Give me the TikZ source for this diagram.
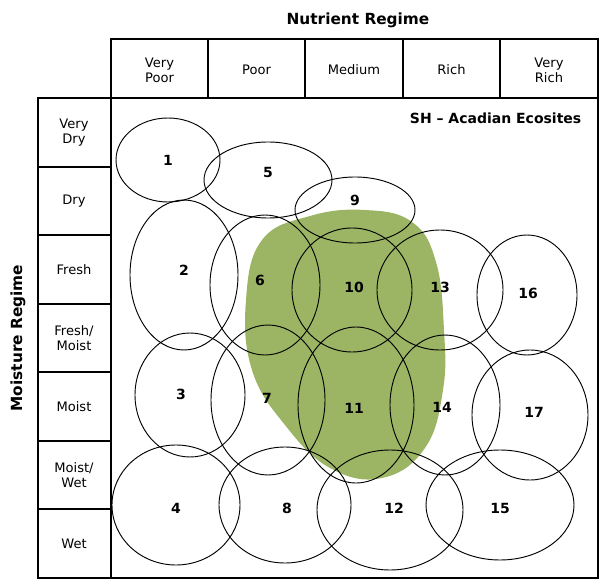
\documentclass[tikz,border=0pt]{standalone}
\usepackage{fontspec}
\setmainfont{DejaVu Sans}
\begin{document}
\begin{tikzpicture}[x=0.75pt,y=-0.75pt,
  cell/.style={draw,line width=0.8pt},
  eco/.style={draw,line width=0.7pt},
  hdr/.style={font=\fontsize{9.8}{11.5}\selectfont,align=center},
  num/.style={font=\bfseries\fontsize{10.5}{12}\selectfont}]
\useasboundingbox (0,0) rectangle (600,581);
\fill[fill={rgb,255:red,155;green,181;blue,100}] plot[smooth cycle,tension=0.7] coordinates {(310,216)(365,210)(412,222)(436,262)(444,330)(443,390)(425,448)(382,478)(330,468)(285,425)(252,370)(246,300)(262,240)};
% header
\foreach \a/\b/\t in {111/208/{Very\\Poor},208/305/{Poor},305/403/{Medium},403/500/{Rich},500/598/{Very\\Rich}}
  {\draw[cell] (\a,39) rectangle (\b,98); \node[hdr] (h\a) at ({(\a+\b)/2},70) {\t};}
\foreach \a/\b/\t in {98/167/{Very\\Dry},167/235/{Dry},235/304/{Fresh},304/372/{Fresh/\\Moist},372/441/{Moist},441/509/{Moist/\\Wet},509/578/{Wet}}
  {\draw[cell] (38,\a) rectangle (111,\b); \node[hdr] (r\a) at (74,{(\a+\b)/2}) {\t};}
\draw[cell] (111,98) rectangle (598,578);
\node[font=\bfseries\fontsize{11.5}{13}\selectfont] (nt) at (358,20) {Nutrient Regime};
\node[font=\bfseries\fontsize{11.5}{13}\selectfont,rotate=90] (mt) at (18,338) {Moisture Regime};
\node[font=\bfseries\fontsize{10.5}{12}\selectfont,anchor=east] (sh) at (586,118) {SH – Acadian Ecosites};
\foreach \n/\x/\y/\rx/\ry/\lx/\ly in {
 1/168/160/52/42/168/160, 5/268/180/64/38/268/172, 9/355/210/60/33/355/200,
 2/184/275/54/75/184/270, 6/265/285/55/70/260/280, 10/352/290/60/62/354/287,
 13/440/290/63/60/440/287, 16/527/295/50/60/528/293,
 3/190/395/55/62/181/394, 7/268/400/57/75/267/398, 11/356/405/58/78/354/408,
 14/445/405/55/70/442/407, 17/530/415/58/65/534/412,
 4/176/505/64/60/176/508, 8/285/505/66/58/287/508, 12/390/510/73/60/394/508,
 15/500/505/74/55/500/508}
 {\draw[eco] (\x,\y) ellipse [x radius=\rx*0.75pt, y radius=\ry*0.75pt];
  \node[num] (e\n) at (\lx,\ly) {\n};}
\end{tikzpicture}
\end{document}
